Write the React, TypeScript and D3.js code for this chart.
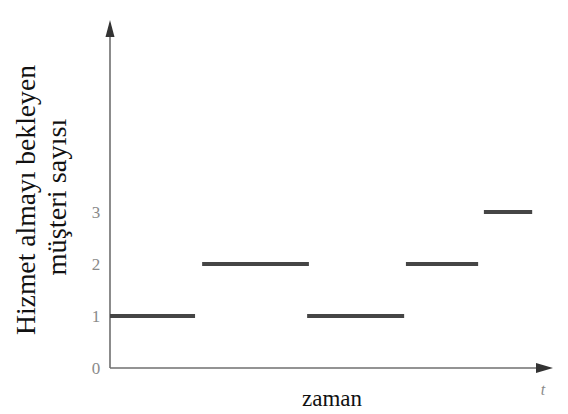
import React from "react";
import * as d3 from "d3";

const segStart = [0, 20.8, 44.5, 66.8, 84.4];
const segEnd = [19.2, 44.9, 66.4, 83.1, 95.3];
const segValue = [1, 2, 1, 2, 3];
const yTicks = [0, 1, 2, 3];
const yLabelLines = ["Hizmet almayı bekleyen", "müşteri sayısı"];
const xLabel = "zaman";
const tLabel = "t";

const W = 568;
const H = 414;

export default function App() {
  const x = d3.scaleLinear().domain([0, 100]).range([110, 553]);
  const y = d3.scaleLinear().domain([0, 3]).range([368, 212]);
  const yTop = y.invert(20);
  const x0 = x(0);
  const y0 = y(0);
  const serif = "'Liberation Serif', 'DejaVu Serif', serif";
  const axisColor = "#6f6f6f";
  return (
    <svg
      width={W}
      height={H}
      style={{ position: "absolute", left: 0, top: 0, background: "#fff" }}
    >
      {/* y axis */}
      <line x1={x0} y1={y0} x2={x0} y2={y(yTop) + 12} stroke={axisColor} strokeWidth={1.6} />
      <path
        d={`M${x0},${y(yTop)} L${x0 - 4.5},${y(yTop) + 17} L${x0 + 4.5},${y(yTop) + 17} Z`}
        fill="#333"
      />
      {/* x axis */}
      <line x1={x0} y1={y0} x2={x(100) - 12} y2={y0} stroke={axisColor} strokeWidth={1.6} />
      <path
        d={`M${x(100)},${y0} L${x(100) - 17},${y0 - 5} L${x(100) - 17},${y0 + 5} Z`}
        fill="#333"
      />
      {/* tick labels */}
      {yTicks.map((t) => (
        <text
          key={t}
          x={96}
          y={y(t) + 6}
          textAnchor="middle"
          fontFamily={serif}
          fontSize={17}
          fill="#8a8a8a"
        >
          {t}
        </text>
      ))}
      {/* steps */}
      {segValue.map((v, i) => (
        <line
          key={i}
          x1={x(segStart[i])}
          x2={x(segEnd[i])}
          y1={y(v)}
          y2={y(v)}
          stroke="#454545"
          strokeWidth={4}
        />
      ))}
      {/* x label */}
      <text x={332} y={406} textAnchor="middle" fontFamily={serif} fontSize={23} fill="#111">
        {xLabel}
      </text>
      <text x={543} y={395} textAnchor="middle" fontFamily={serif} fontStyle="italic" fontSize={16} fill="#8a8a8a">
        {tLabel}
      </text>
      {/* y label */}
      <text
        transform="translate(35,200) rotate(-90)"
        textAnchor="middle"
        fontFamily={serif}
        fontSize={28}
        fill="#111"
        textLength={270}
        lengthAdjust="spacingAndGlyphs"
      >
        {yLabelLines[0]}
      </text>
      <text
        transform="translate(66,197) rotate(-90)"
        textAnchor="middle"
        fontFamily={serif}
        fontSize={28}
        fill="#111"
        textLength={157}
        lengthAdjust="spacingAndGlyphs"
      >
        {yLabelLines[1]}
      </text>
    </svg>
  );
}
